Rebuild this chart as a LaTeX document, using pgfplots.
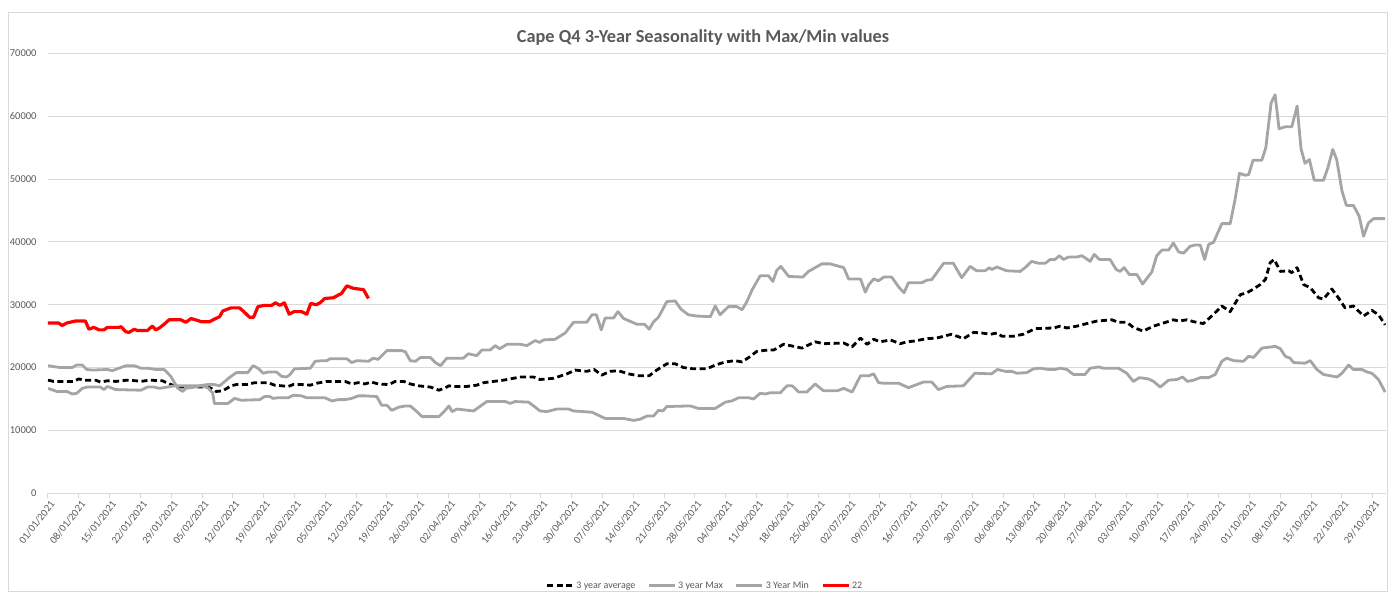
\documentclass[border=0pt]{standalone}
\usepackage{pgfplots}
\pgfplotsset{compat=1.18}
\usepackage{fontspec}
\setmainfont{Carlito}
\definecolor{gridgray}{HTML}{D9D9D9}
\definecolor{labelgray}{HTML}{595959}
\definecolor{sergray}{HTML}{A5A5A5}
\definecolor{serred}{HTML}{FF0000}
\begin{document}
\begin{tikzpicture}
\useasboundingbox (-48pt,-102.7pt) rectangle (1341pt,493.3pt);
\draw[color=gridgray, line width=0.8pt] (-40pt,-97.7pt) rectangle (1339.5pt,481.3pt);
\begin{axis}[
  scale only axis,
  width=1338pt, height=440pt,
  xmin=0, xmax=304,
  ymin=0, ymax=70000,
  separate axis lines,
  axis x line*=bottom,
  axis y line*=left,
  y axis line style={draw=none},
  x axis line style={color=gridgray, line width=1pt},
  xtick={0,7,...,301},
  xticklabels={01/01/2021,08/01/2021,15/01/2021,22/01/2021,29/01/2021,05/02/2021,12/02/2021,19/02/2021,26/02/2021,05/03/2021,12/03/2021,19/03/2021,26/03/2021,02/04/2021,09/04/2021,16/04/2021,23/04/2021,30/04/2021,07/05/2021,14/05/2021,21/05/2021,28/05/2021,04/06/2021,11/06/2021,18/06/2021,25/06/2021,02/07/2021,09/07/2021,16/07/2021,23/07/2021,30/07/2021,06/08/2021,13/08/2021,20/08/2021,27/08/2021,03/09/2021,10/09/2021,17/09/2021,24/09/2021,01/10/2021,08/10/2021,15/10/2021,22/10/2021,29/10/2021},
  ytick={0,10000,...,70000},
  scaled y ticks=false,
  /pgf/number format/fixed,
  /pgf/number format/1000 sep={},
  /pgf/number format/assume math mode=true,
  ticklabel style={font=\fontsize{10.5}{12}\selectfont, text=labelgray},
  xticklabel style={rotate=52, anchor=east, xshift=3pt, yshift=-6pt},
  yticklabel style={xshift=-3pt},
  tick align=outside,
  major tick length=5pt,
  xtick style={color=gridgray, line width=1pt},
  ytick style={draw=none},
  ymajorgrids,
  grid style={color=gridgray, line width=1pt},
  legend style={at={(0.491,-0.21)}, anchor=center, draw=none, fill=none,
    legend columns=4, font=\fontsize{10}{12}\selectfont, text=labelgray,
    /tikz/every even column/.append style={column sep=10pt}},
  legend image code/.code={\draw[#1] (0pt,0pt) -- (26pt,0pt);},
  every axis plot/.append style={line join=round},
]
\addplot[black, line width=2.8pt, dash pattern=on 6pt off 3.5pt] coordinates {
(0,18000)(1.3,17800)(4.3,17800)(5.8,17800)(7,18200)(8.1,18000)(10.8,18000)(11.9,17700)(13.5,17900)(15.4,17800)(18,18000)(20,17900)(21.1,17800)(23,18000)(26,17900)(27.2,17500)(28.7,17100)(30.2,16900)(31.7,17000)(34.8,16900)(35.9,17000)(37.1,16700)(38.2,16200)(39.7,16300)(41.6,17100)(42.8,17300)(45.4,17300)(46.9,17600)(50,17600)(51.5,17200)(53.1,17100)(54.6,17000)(55.7,17300)(57.6,17300)(59.6,17200)(61,17500)(63.3,17800)(67.5,17800)(69,17400)(70.5,17600)(72,17400)(73.5,17700)(75,17400)(77.4,17300)(78.9,17800)(80.8,17800)(82.3,17400)(84.2,17100)(86.9,16900)(88.8,16400)(90,16700)(91.1,17100)(92.1,17000)(95.2,17000)(97.4,17200)(99,17600)(103.5,18000)(107.3,18500)(110.3,18500)(111.8,18100)(114.9,18300)(117.9,19000)(119.8,19600)(122.4,19400)(124.1,19700)(125.8,18800)(127.7,19400)(129.6,19500)(131.9,19000)(134.2,18700)(136.6,18700)(138.3,19600)(140.6,20600)(142.5,20600)(144.4,20000)(146.7,19800)(149.7,19800)(151.6,20400)(153.9,20900)(156.1,21100)(157.7,20900)(159.2,21600)(161.1,22600)(163.7,22800)(164.9,22800)(167.1,23700)(168.6,23500)(171.3,23100)(174.3,24100)(176.2,23800)(180.8,23900)(182.7,23300)(184.6,24700)(186.1,23700)(187.6,24500)(189.1,24100)(191.4,24400)(193.6,23800)(195.2,24100)(196.6,24200)(199.7,24600)(201.9,24700)(205.3,25300)(206.9,24900)(208,24600)(210.3,25600)(212.2,25500)(214.1,25300)(215.6,25500)(216.7,25000)(219.4,25000)(221.6,25300)(224.3,26200)(228.5,26300)(230,26600)(231.5,26300)(233.8,26600)(236,27000)(238.3,27400)(241.7,27600)(243.2,27200)(245.1,27200)(246.6,26400)(248.8,25800)(251.2,26600)(253.5,27100)(255.7,27600)(256.9,27400)(258.8,27600)(260.3,27300)(262.5,27000)(264.4,28200)(266.7,29800)(268.6,28900)(270.9,31600)(272.4,31900)(273.9,32500)(275.4,33200)(276.6,34000)(277.7,36700)(278.6,37200)(280,35300)(281.9,35400)(282.6,35100)(283.8,35900)(285.3,33200)(286.8,32700)(288.7,31100)(289.8,30900)(291.7,32500)(293.2,31100)(294.7,29500)(296.6,29800)(298.9,28200)(300.8,29100)(302.3,28400)(303.8,26800)
};
\addlegendentry{3 year average}
\addplot[sergray, line width=2.8pt] coordinates {
(0,20300)(2.8,20000)(5.5,20000)(6.5,20400)(7.8,20400)(8.8,19700)(10,19600)(13.5,19700)(14.6,19500)(16.5,20000)(17.7,20300)(19.6,20300)(21.1,19900)(22.6,19900)(24.5,19700)(26.4,19700)(27.9,18600)(29.5,16700)(30.6,16200)(31.3,16700)(33.3,16900)(35.2,17200)(36.3,17300)(37.8,17300)(39,17100)(41.2,18400)(42.8,19200)(45.4,19200)(46.6,20300)(47.7,19900)(48.9,19100)(50,19300)(51.9,19300)(53.1,18600)(54.2,18500)(55,18900)(56,19800)(59.6,19900)(60.7,21000)(62.2,21100)(63.3,21100)(64.1,21400)(67.9,21400)(69,20800)(70.2,21100)(72.8,21000)(73.9,21500)(75,21300)(77,22700)(80.4,22700)(81.2,22500)(82.3,21100)(83.5,21000)(84.6,21600)(86.9,21600)(88,20800)(89.2,20300)(90.6,21500)(94.4,21500)(95.5,22200)(97.4,21900)(98.6,22800)(100.5,22800)(101.6,23500)(102.6,23000)(104.3,23700)(107.3,23700)(108.8,23500)(110.7,24300)(111.7,24000)(112.6,24400)(115.2,24500)(117.5,25500)(119.4,27200)(122.4,27200)(123.6,28400)(124.6,28400)(125.7,26000)(126.6,27900)(128.5,27900)(129.5,28900)(130.8,27800)(133.8,26900)(135.5,26900)(136.6,26100)(137.6,27300)(138.7,28000)(140.6,30500)(142.5,30600)(143.8,29300)(145.5,28400)(147.4,28200)(150.5,28100)(151.6,29800)(152.7,28400)(154.6,29700)(156.5,29700)(157.7,29200)(158.8,30500)(160,32400)(161.8,34600)(163.7,34600)(164.7,33700)(165.6,35500)(166.5,36100)(168.3,34500)(171.5,34400)(172.8,35300)(175.8,36500)(177.7,36500)(180.8,35900)(181.9,34100)(184.6,34100)(185.7,32000)(186.5,33200)(187.6,34100)(188.7,33800)(189.9,34400)(191.7,34400)(193.3,32800)(194.5,31900)(195.5,33500)(198.5,33500)(199.7,33900)(200.8,34000)(203.5,36600)(205.7,36600)(207.6,34300)(209.5,36100)(211,35400)(212.9,35400)(213.9,35900)(214.4,35600)(215.6,36000)(217.8,35400)(220.9,35300)(222,35900)(223.5,36900)(225,36600)(226.6,36600)(227.7,37200)(228.8,37200)(229.8,37800)(230.7,37200)(231.9,37600)(233.8,37600)(234.9,37800)(236.8,36900)(237.7,38000)(238.9,37200)(241.3,37200)(242.7,35600)(243.6,35300)(244.5,35900)(245.7,34800)(247.4,34800)(248.7,33300)(250.8,35200)(251.9,37800)(253.1,38700)(254.6,38700)(255.7,39800)(256.9,38400)(258,38200)(259.5,39300)(260.6,39500)(261.8,39500)(262.8,37200)(263.7,39600)(264.8,39900)(266.7,42900)(268.6,42900)(269.7,46700)(270.7,50900)(272,50600)(272.8,50700)(273.8,53000)(275.8,53000)(276.7,55000)(277.9,62100)(278.8,63400)(279.7,58000)(281.1,58300)(282.6,58300)(283.8,61600)(284.7,54800)(285.6,52500)(286.6,53100)(287.7,49800)(289.8,49800)(290.8,51800)(291.9,54700)(292.8,53100)(294,48100)(295,45800)(296.6,45800)(297.9,44100)(298.9,40900)(300,43000)(301.2,43700)(303.8,43700)
};
\addlegendentry{3 year Max}
\addplot[sergray, line width=2.8pt] coordinates {
(0,16700)(2,16200)(4.3,16200)(5.5,15800)(6.5,15900)(7.8,16700)(8.9,16900)(11.9,16900)(12.7,16500)(13.5,17000)(15.4,16500)(21.1,16400)(22.6,16900)(24.1,16900)(25.3,16700)(27.2,16900)(28.7,17100)(34.8,17100)(36.3,16800)(37.4,16000)(37.8,14300)(40.9,14300)(42.4,15100)(43.9,14800)(48.1,14900)(49.2,15400)(50.4,15400)(51.1,15100)(52.3,15200)(54.6,15200)(55.7,15600)(57.6,15500)(58.8,15200)(62.9,15200)(64.5,14700)(66,14900)(67.5,14900)(69,15100)(70.5,15500)(72,15500)(74.7,15400)(75.8,14000)(77,14000)(78.1,13200)(79.7,13700)(81.2,13900)(82.3,13900)(83.8,13000)(85,12200)(88.8,12200)(90,13000)(91.1,13900)(91.8,13000)(92.9,13400)(96.7,13100)(99.7,14600)(103.9,14600)(105,14300)(106.1,14600)(109.2,14500)(111.8,13100)(113.3,13000)(115.6,13400)(118.3,13400)(119.4,13100)(123.6,12900)(126.6,11900)(130.8,11900)(133.1,11600)(134.6,11800)(136.1,12300)(137.6,12300)(138.7,13200)(139.7,13100)(140.6,13800)(145.9,13900)(147.8,13500)(151.6,13500)(153.9,14500)(155.4,14700)(156.9,15200)(159.2,15200)(160.3,15000)(161.8,15900)(163,15800)(164.1,16000)(166.4,16000)(167.9,17100)(169.1,17100)(170.6,16100)(172.4,16100)(174.3,17400)(176.2,16300)(179.3,16300)(180.8,16700)(182.7,16100)(184.6,18700)(186.5,18700)(187.6,19000)(188.7,17600)(189.9,17500)(193.3,17500)(195.5,16800)(198.9,17700)(200.8,17700)(202.3,16500)(204.2,17000)(208,17100)(210.6,19100)(214.4,19000)(215.7,19700)(217.5,19400)(219,19400)(220.1,19100)(222.4,19200)(223.9,19800)(225.4,19900)(227.3,19700)(228.8,19700)(230,19900)(231.5,19700)(233,18900)(235.6,18900)(236.8,19900)(238.7,20100)(239.8,19900)(243.2,19900)(245.1,19100)(246.6,17800)(248,18400)(250,18200)(251.2,17800)(252.7,16900)(254.6,18000)(256.5,18100)(257.8,18500)(258.9,17800)(260.3,18000)(261.8,18400)(263.7,18400)(265.2,18900)(266.7,21000)(267.8,21500)(269.4,21100)(271.6,21000)(272.8,21800)(273.9,21600)(275.8,23100)(278.1,23300)(278.8,23400)(280,23000)(281.1,21800)(282.2,21500)(283,20800)(285.6,20700)(286.8,21100)(288.3,19700)(289.8,18900)(292.1,18600)(292.9,18500)(294,19100)(295.5,20400)(296.6,19700)(298.5,19700)(299.7,19300)(300.8,19100)(302.3,18100)(303.8,16100)
};
\addlegendentry{3 Year Min}
\addplot[serred, line width=3.2pt] coordinates {
(0,27100)(2.4,27100)(3.2,26700)(4.3,27100)(6.2,27400)(8.5,27400)(9.3,26100)(10.4,26400)(11.6,26000)(12.7,26000)(13.5,26400)(16.1,26400)(16.6,26500)(17.7,25700)(18.4,25600)(19.6,26100)(20.3,25900)(22.6,25900)(23.7,26600)(24.5,26000)(25.3,26300)(26.4,26900)(27.5,27600)(30.2,27600)(31.3,27200)(32.5,27800)(34,27500)(34.8,27300)(36.7,27300)(37.8,27700)(39,28100)(39.7,29000)(41.6,29500)(43.5,29500)(44.5,28900)(45.8,28000)(46.7,28000)(47.7,29700)(49.2,29900)(50.8,29900)(51.7,30300)(52.7,29900)(53.7,30300)(54.8,28500)(55.9,28900)(57.6,28900)(58.8,28500)(59.7,30200)(61,30000)(61.8,30300)(62.9,31000)(64.8,31100)(66.7,31800)(67.9,33000)(69.4,32600)(71.7,32400)(72.8,31000)
};
\addlegendentry{22}
\end{axis}
\node[font=\bfseries\fontsize{18.3}{21}\selectfont, text=labelgray] at (655pt,455.3pt) {Cape Q4 3-Year Seasonality with Max/Min values};
\end{tikzpicture}
\end{document}
